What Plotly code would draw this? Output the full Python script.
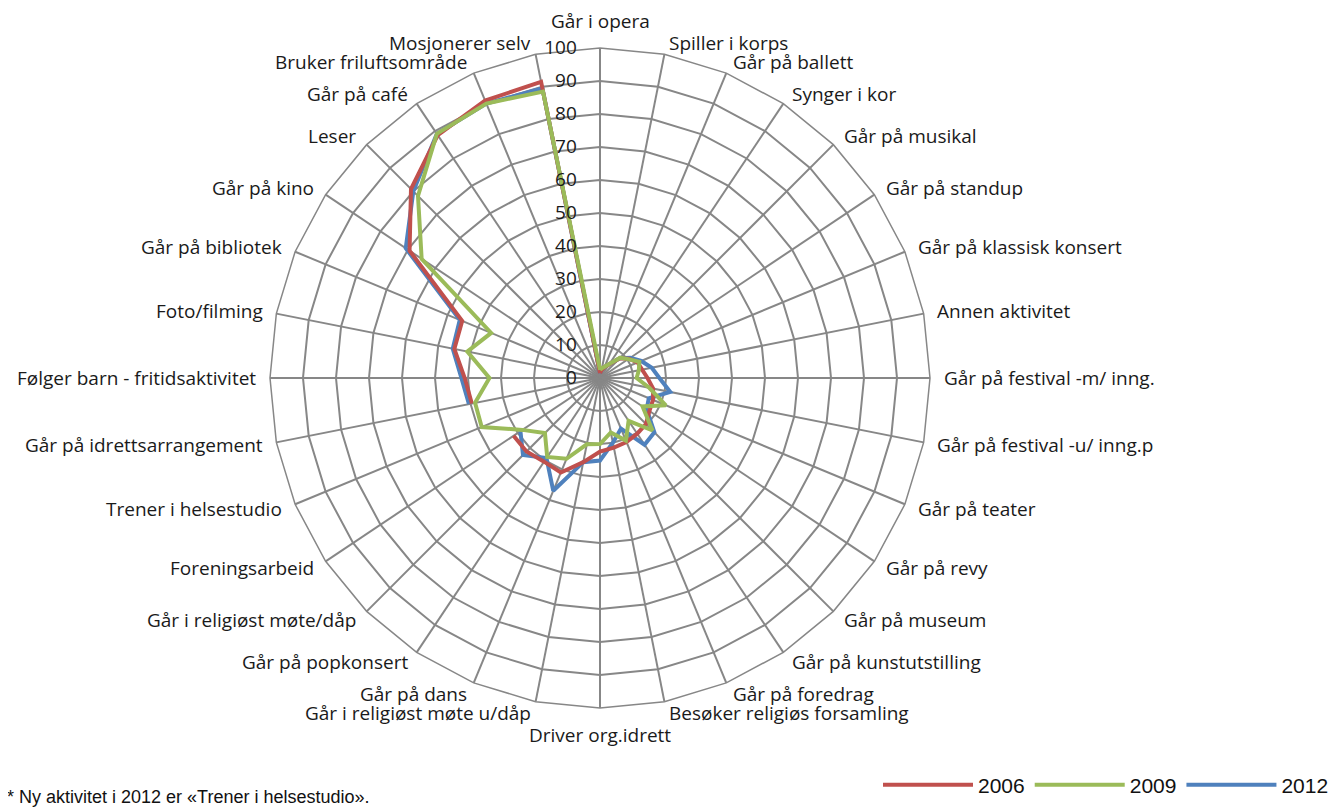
import math
import plotly.graph_objects as go

categories = [
    "Går i opera", "Spiller i korps", "Går på ballett", "Synger i kor", "Går på musikal",
    "Går på standup", "Går på klassisk konsert", "Annen aktivitet", "Går på festival -m/ inng.",
    "Går på festival -u/ inng.p", "Går på teater", "Går på revy", "Går på museum",
    "Går på kunstutstilling", "Går på foredrag", "Besøker religiøs forsamling", "Driver org.idrett",
    "Går i religiøst møte u/dåp", "Går på dans", "Går på popkonsert", "Går i religiøst møte/dåp",
    "Foreningsarbeid", "Trener i helsestudio", "Går på idrettsarrangement",
    "Følger barn - fritidsaktivitet", "Foto/filming", "Går på bibliotek", "Går på kino", "Leser",
    "Går på café", "Bruker friluftsområde", "Mosjonerer selv",
]

v2006 = [1.5, 2.5, 3.5, 5, 8.5, 10.5, 12.3, 13, 14.4, 16.4, 17.4, 18, 19.7, 20.3, 21, 21.5, 22.3,
         26, 31, 30.5, 31.5, 31.5, None, 39.6, 41, 45, 45.2, 69.4, 81, 88.5, 91, 91.5]
v2009 = [2.5, 3, 3.7, 5.2, 8.7, 10.3, 12.9, 12, 11.1, 15.2, 21.6, 15.5, 22.5, 15.6, 20.5, 16.8, 20,
         20.5, 26.5, 28.8, 23.6, 28.3, 38.8, 38.6, 33.5, 41, 35.7, 65, 78, 89, 90, 88.5]
v2012 = [1.5, 2.5, 3.5, 5, 8.5, 11, 13.5, 16, 18, 21.7, 16, 17, 23.3, 24.3, 16.6, 20, 25,
         26, 37, 29.2, 33, 29, None, 40.5, 42, 45.5, 46, 70.8, 80, 89, 90, 89.5]

series = [
    ("2012", v2012, "#4F81BD", 3),
    ("2006", v2006, "#C0504D", 1),
    ("2009", v2009, "#9BBB59", 2),
]

W, H = 1333, 799   # page body has an 8px margin
CX, CY, R = 592, 370, 330   # polar centre and radius in figure pixels
SIDE_PAD, END_PAD = 12, 27  # label distance beyond the outer ring

fig = go.Figure()
for name, vals, color, rank in series:
    fig.add_trace(go.Scatterpolar(
        r=vals + [vals[0]],
        theta=categories + [categories[0]],
        mode="lines",
        name=name,
        line=dict(color=color, width=4),
        connectgaps=False,
        legendrank=rank,
    ))

label_font = dict(family="Open Sans, Noto Sans, sans-serif", size=19, color="#1a1a1a")

# Excel-like category labels placed just outside the polar frame
n = len(categories)
annotations = []
for i, cat in enumerate(categories):
    ang = 2 * math.pi * i / n
    if i == 0 or i == n // 2:
        rr, xa = R + END_PAD, "center"
    else:
        rr = R + SIDE_PAD
        xa = "left" if i < n // 2 else "right"
    px = CX + rr * math.sin(ang)
    py = CY - rr * math.cos(ang)
    annotations.append(dict(
        text=cat, xref="paper", yref="paper", x=px / W, y=1 - py / H,
        xanchor=xa, yanchor="middle", showarrow=False, font=label_font,
    ))

annotations.append(dict(
    text="* Ny aktivitet i 2012 er «Trener i helsestudio».",
    xref="paper", yref="paper", x=-3 / W, y=10 / H, xanchor="left", yanchor="middle",
    showarrow=False,
    font=dict(family="Liberation Sans Narrow, Liberation Sans, sans-serif", size=18, color="#111"),
))

fig.update_layout(
    width=W, height=H,
    margin=dict(l=0, r=0, t=0, b=0),
    paper_bgcolor="white",
    plot_bgcolor="white",
    polar=dict(
        domain=dict(x=[(CX - R) / W, (CX + R) / W], y=[(H - CY - R) / H, (H - CY + R) / H]),
        bgcolor="white",
        gridshape="linear",
        angularaxis=dict(
            rotation=90, direction="clockwise",
            categoryorder="array", categoryarray=categories,
            showticklabels=False,
            gridcolor="#878787", gridwidth=1.5,
            linecolor="#878787", linewidth=1.5,
            showline=True, ticks="",
        ),
        radialaxis=dict(
            range=[0, 100], dtick=10, angle=90, tickangle=90,
            side="counterclockwise",
            tickfont=dict(family="Open Sans, Noto Sans, sans-serif", size=19, color="#1a1a1a"),
            gridcolor="#878787", gridwidth=1.5,
            showline=False, ticks="outside", ticklen=16, tickcolor="rgba(0,0,0,0)",
        ),
    ),
    legend=dict(
        orientation="h", x=1326 / W, xanchor="right", y=22 / H, yanchor="middle",
        itemwidth=90, font=dict(family="Liberation Sans Narrow, Liberation Sans, sans-serif", size=21, color="#111"),
        bgcolor="rgba(0,0,0,0)",
    ),
    annotations=annotations,
)

fig.write_html("out.html")
